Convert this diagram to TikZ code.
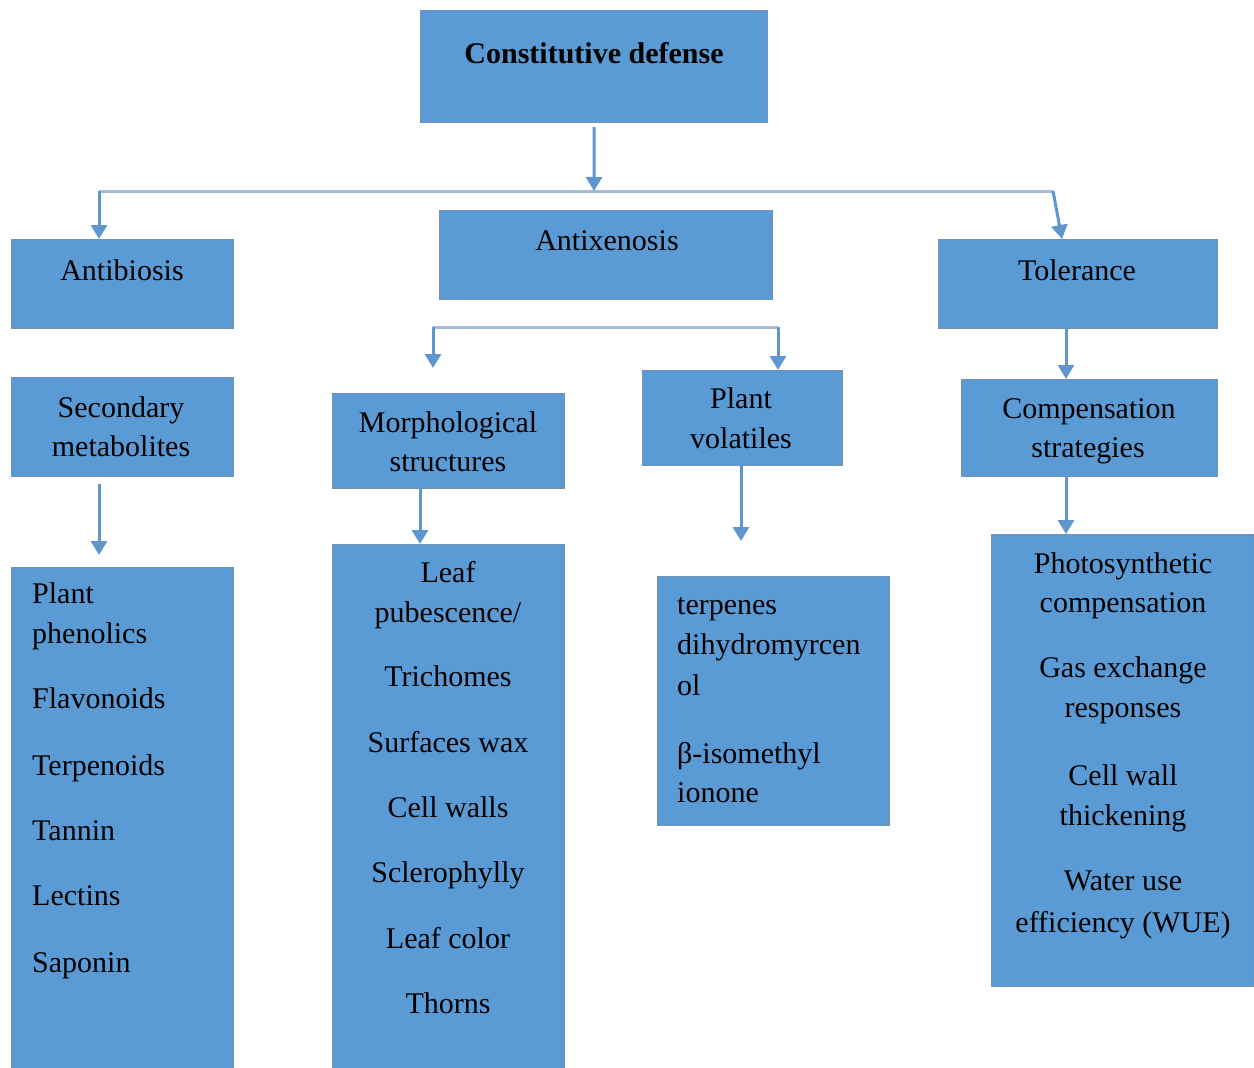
\documentclass[tikz,border=0pt]{standalone}
\usepackage{fontspec}
\setmainfont{Liberation Serif}
\usetikzlibrary{arrows.meta}
\definecolor{boxfill}{RGB}{91,155,213}
\definecolor{boxline}{RGB}{115,145,180}
\definecolor{arrowblue}{RGB}{95,150,205}
\definecolor{busline}{RGB}{165,188,214}
\newcommand\labelfont{\fontsize{30}{40}\selectfont}
\tikzset{
  box/.style={draw=boxline, line width=1.2pt, fill=boxfill, inner sep=0pt, anchor=north west},
  txt/.style={font=\labelfont, inner sep=0pt, anchor=base, text=black},
  txtl/.style={txt, anchor=base west},
  link/.style={draw=arrowblue, line width=3pt, -{Triangle[width=16pt,length=14pt]}},
  bus/.style={draw=busline, line width=3pt},
}
\begin{document}
\begin{tikzpicture}[x=1pt, y=-1pt]
\useasboundingbox (0,0) rectangle (1254,1068);
\clip (0,0) rectangle (1254,1068);

% boxes
\node[box, minimum width=347pt, minimum height=112pt] (top)   at (420,10)  {};
\node[box, minimum width=222pt, minimum height=89pt]  (anti)  at (11,239)  {};
\node[box, minimum width=333pt, minimum height=89pt]  (antix) at (439,210) {};
\node[box, minimum width=279pt, minimum height=89pt]  (tol)   at (938,239) {};
\node[box, minimum width=222pt, minimum height=99pt]  (sec)   at (11,377)  {};
\node[box, minimum width=232pt, minimum height=95pt]  (morph) at (332,393) {};
\node[box, minimum width=200pt, minimum height=95pt]  (pv)    at (642,370) {};
\node[box, minimum width=256pt, minimum height=97pt]  (comp)  at (961,379) {};
\node[box, minimum width=222pt, minimum height=520pt] (listA) at (11,567)  {};
\node[box, minimum width=232pt, minimum height=540pt] (listB) at (332,544) {};
\node[box, minimum width=232pt, minimum height=249pt] (listC) at (657,576) {};
\node[box, minimum width=262pt, minimum height=452pt] (listD) at (991,534) {};

% headings
\node[txt, font=\labelfont\bfseries] (t-top) at (594,63) {Constitutive defense};
\node[txt] (t-anti)  at (122,280) {Antibiosis};
\node[txt] (t-antix) at (607,250) {Antixenosis};
\node[txt] (t-tol)   at (1077,280) {Tolerance};
\node[txt] (t-sec1)  at (121,417) {Secondary};
\node[txt] (t-sec2)  at (121,456) {metabolites};
\node[txt] (t-mor1)  at (448,432) {Morphological};
\node[txt] (t-mor2)  at (448,471) {structures};
\node[txt] (t-pv1)   at (741,408) {Plant};
\node[txt] (t-pv2)   at (741,448) {volatiles};
\node[txt] (t-cmp1)  at (1089,418) {Compensation};
\node[txt] (t-cmp2)  at (1088,457) {strategies};

% list contents
\foreach \t/\y [count=\i] in {Plant/603, phenolics/643, Flavonoids/708, Terpenoids/775,
    Tannin/840, Lectins/905, Saponin/972}
  \node[txtl] (a-\i) at (32,\y) {\t};
\foreach \t/\y [count=\i] in {Leaf/582, {pubescence/}/622, Trichomes/686, Surfaces wax/752,
    Cell walls/817, Sclerophylly/882, Leaf color/948, Thorns/1013}
  \node[txt] (b-\i) at (448,\y) {\t};
\foreach \t/\y [count=\i] in {terpenes/614, dihydromyrcen/654, ol/695,
    β-isomethyl/763, ionone/802}
  \node[txtl] (c-\i) at (677,\y) {\t};
\foreach \t/\y [count=\i] in {Photosynthetic/573, compensation/612, Gas exchange/677,
    responses/717, Cell wall/785, thickening/825, Water use/890, efficiency (WUE)/932}
  \node[txt] (d-\i) at (1123,\y) {\t};

% connector points
\coordinate (busL)  at (99,191);
\coordinate (busR)  at (1053,191);
\coordinate (busM)  at (594,191);
\coordinate (tolin) at (1062,239);
\coordinate (subL)  at (433,327);
\coordinate (subR)  at (778,327);
\coordinate (morphin) at (433,368);
\coordinate (xa) at (99,0);
\coordinate (xb) at (420,0);
\coordinate (xc) at (741,0);
\coordinate (xd) at (1066,0);
\coordinate (listAin) at (99,555);
\coordinate (listCin) at (741,541);

% connectors
\draw[bus] (busL) -- (busR);
\draw[link] ([yshift=-4pt]top.south) -- (busM);
\draw[link] (busL) -- (anti.north -| busL);
\draw[link] (busR) -- (tolin);
\draw[bus] (subL) -- (subR);
\draw[link] (subL) -- (morphin);
\draw[link] (subR) -- (pv.north -| subR);
\draw[link] (tol.south -| xd) -- (comp.north -| xd);
\draw[link] ([yshift=-7pt]sec.south -| xa) -- (listAin);
\draw[link] (morph.south -| xb) -- (listB.north -| xb);
\draw[link] (pv.south -| xc) -- (listCin);
\draw[link] (comp.south -| xd) -- (listD.north -| xd);
\end{tikzpicture}
\end{document}
